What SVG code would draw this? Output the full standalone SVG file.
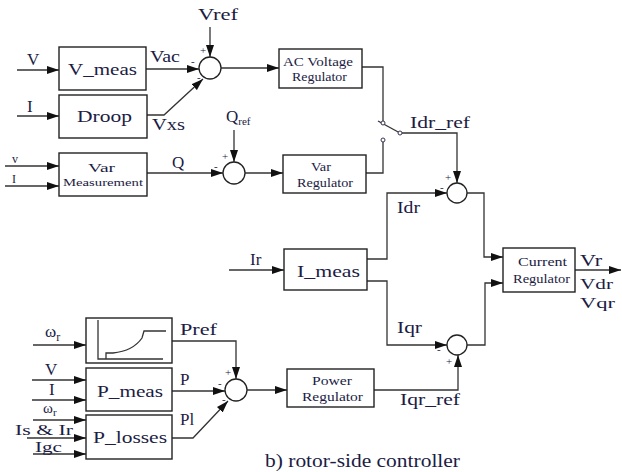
<svg xmlns="http://www.w3.org/2000/svg" width="622" height="472" viewBox="0 0 622 472">
<defs>
<marker id="ah" viewBox="0 0 12 8" refX="12" refY="4" markerWidth="12" markerHeight="8" orient="auto" markerUnits="userSpaceOnUse"><path d="M0,0 L12,4 L0,8 z" fill="#111"/></marker>
</defs>
<style>
.box{fill:#fff;stroke:#222;stroke-width:1.4}
.sum{fill:#fff;stroke:#222;stroke-width:1.3}
.ln{fill:none;stroke:#333;stroke-width:1.3}
.ar{fill:none;stroke:#333;stroke-width:1.3;marker-end:url(#ah)}
text{font-family:"Liberation Serif","Times New Roman",serif;fill:#1c1c44}
.L{font-size:17px}
.N{font-size:15px}
.K{font-size:14px}
.M{font-size:12px}
.S{font-size:10px}
.sg{font-size:11px}
</style>
<rect width="622" height="472" fill="#fff"/>

<g id="connectors">
<path class="ar" d="M17,70 H59"/>
<path class="ar" d="M17,116 H59"/>
<path class="ar" d="M210,27 V57"/>
<path class="ar" d="M146,69 H199"/>
<path class="ar" d="M147,115 H164 L203,79"/>
<path class="ar" d="M221,68 H279"/>
<path class="ln" d="M362,67 H383 V121"/>
<path class="ln" d="M383,142 V173 H366"/>
<path class="ar" d="M5,166 H59"/>
<path class="ar" d="M5,186 H59"/>
<path class="ar" d="M147,173 H223"/>
<path class="ar" d="M234,130 V162"/>
<path class="ar" d="M245,173 H283"/>
<path class="ar" d="M402,133 H457 V183"/>
<path class="ar" d="M367,259 H387 V193 H447"/>
<path class="ar" d="M467,193 H484 V257 H503"/>
<path class="ar" d="M229,270 H284"/>
<path class="ar" d="M367,281 H387 V345 H447"/>
<path class="ar" d="M467,345 H485 V283 H503"/>
<path class="ar" d="M575,270 H621"/>
<path class="ar" d="M374,390 H458 V355"/>
<path class="ar" d="M33,345 H86"/>
<path class="ar" d="M172,341 H236 V379"/>
<path class="ar" d="M32,380 H86"/>
<path class="ar" d="M32,400 H86"/>
<path class="ar" d="M172,391 H225"/>
<path class="ar" d="M247,390 H287"/>
<path class="ar" d="M33,420 H86"/>
<path class="ar" d="M27,438 H86"/>
<path class="ar" d="M33,454 H86"/>
<path class="ar" d="M172,438 H193 L228,401"/>
</g>

<g id="vmeas"><rect class="box" x="59" y="47" width="87" height="43"/><text class="L" x="68" y="75" textLength="69" lengthAdjust="spacingAndGlyphs">V_meas</text></g>
<g id="droop"><rect class="box" x="59" y="95" width="88" height="43"/><text class="L" x="77" y="122" textLength="55" lengthAdjust="spacingAndGlyphs">Droop</text></g>
<g id="varmeas"><rect class="box" x="59" y="153" width="88" height="43"/><text class="M" x="88" y="172" textLength="27" lengthAdjust="spacingAndGlyphs">Var</text><text class="S" x="63" y="186" textLength="80" lengthAdjust="spacingAndGlyphs">Measurement</text></g>
<g id="sum1"><circle class="sum" cx="210" cy="68" r="11"/><text class="sg" x="200" y="54">+</text><text class="sg" x="191" y="65">-</text><text class="sg" x="197" y="81">-</text></g>
<g id="acvr"><rect class="box" x="279" y="49" width="83" height="39"/><text class="M" x="283" y="66" textLength="70" lengthAdjust="spacingAndGlyphs">AC Voltage</text><text class="M" x="292" y="81" textLength="55" lengthAdjust="spacingAndGlyphs">Regulator</text></g>
<g id="sum2"><circle class="sum" cx="234" cy="173" r="11"/><text class="sg" x="222" y="160">+</text><text class="sg" x="214" y="170">-</text></g>
<g id="varreg"><rect class="box" x="283" y="155" width="83" height="38"/><text class="M" x="311" y="171" textLength="20" lengthAdjust="spacingAndGlyphs">Var</text><text class="M" x="297" y="187" textLength="56" lengthAdjust="spacingAndGlyphs">Regulator</text></g>
<g id="switch"><path class="ln" d="M378,121 L400,133"/><circle cx="383" cy="123" r="2" fill="#fff" stroke="#335" stroke-width="1"/><circle cx="383" cy="140" r="2" fill="#fff" stroke="#335" stroke-width="1"/><circle cx="400" cy="133" r="2" fill="#fff" stroke="#335" stroke-width="1"/></g>
<g id="sum3"><circle class="sum" cx="457" cy="193" r="10"/><text class="sg" x="445" y="181">+</text><text class="sg" x="440" y="191">-</text></g>
<g id="imeas"><rect class="box" x="284" y="249" width="83" height="41"/><text class="L" x="297" y="277" textLength="63" lengthAdjust="spacingAndGlyphs">I_meas</text></g>
<g id="sum4"><circle class="sum" cx="457" cy="345" r="10"/><text class="sg" x="437" y="353">-</text><text class="sg" x="446" y="365">+</text></g>
<g id="currreg"><rect class="box" x="503" y="248" width="72" height="44"/><text class="M" x="518" y="266" textLength="49" lengthAdjust="spacingAndGlyphs">Current</text><text class="M" x="513" y="283" textLength="57" lengthAdjust="spacingAndGlyphs">Regulator</text></g>
<g id="curve"><rect class="box" x="86" y="318" width="86" height="45"/><path class="ln" d="M98,320 V359 H163"/><path class="ln" d="M106,359 V353 H113 Q133,351 142,338 L144,331 H166"/></g>
<g id="pmeas"><rect class="box" x="86" y="368" width="86" height="43"/><text class="L" x="97" y="397" textLength="66" lengthAdjust="spacingAndGlyphs">P_meas</text></g>
<g id="plosses"><rect class="box" x="86" y="415" width="86" height="44"/><text class="L" x="93" y="443" textLength="74" lengthAdjust="spacingAndGlyphs">P_losses</text></g>
<g id="sum5"><circle class="sum" cx="236" cy="390" r="11"/><text class="sg" x="225" y="376">+</text><text class="sg" x="218" y="387">-</text><text class="sg" x="222" y="403">-</text></g>
<g id="powreg"><rect class="box" x="287" y="369" width="87" height="38"/><text class="M" x="312" y="385" textLength="40" lengthAdjust="spacingAndGlyphs">Power</text><text class="M" x="302" y="401" textLength="61" lengthAdjust="spacingAndGlyphs">Regulator</text></g>

<g id="labels">
<text class="L" x="198" y="20" textLength="40" lengthAdjust="spacingAndGlyphs">Vref</text>
<text class="L" x="27" y="65">V</text>
<text class="L" x="150" y="62" textLength="30" lengthAdjust="spacingAndGlyphs">Vac</text>
<text class="L" x="27" y="112">I</text>
<text class="L" x="152" y="130" textLength="33" lengthAdjust="spacingAndGlyphs">Vxs</text>
<text class="L" x="226" y="122">Q<tspan font-size="11" dy="3">ref</tspan></text>
<text class="M" x="12" y="163">v</text>
<text class="M" x="12" y="183">I</text>
<text class="L" x="172" y="168">Q</text>
<text class="L" x="410" y="128" textLength="60" lengthAdjust="spacingAndGlyphs">Idr_ref</text>
<text class="L" x="397" y="213" textLength="23" lengthAdjust="spacingAndGlyphs">Idr</text>
<text class="L" x="250" y="265">Ir</text>
<text class="L" x="397" y="333" textLength="25" lengthAdjust="spacingAndGlyphs">Iqr</text>
<text class="L" x="580" y="266" textLength="22" lengthAdjust="spacingAndGlyphs">Vr</text>
<text class="N" x="580" y="289" textLength="33" lengthAdjust="spacingAndGlyphs">Vdr</text>
<text class="N" x="580" y="308" textLength="35" lengthAdjust="spacingAndGlyphs">Vqr</text>
<text class="L" x="400" y="405" textLength="60" lengthAdjust="spacingAndGlyphs">Iqr_ref</text>
<text class="L" x="45" y="337">ω<tspan font-size="12" dy="4">r</tspan></text>
<text class="L" x="180" y="335" textLength="37" lengthAdjust="spacingAndGlyphs">Pref</text>
<text class="L" x="45" y="375">V</text>
<text class="L" x="49" y="395">I</text>
<text class="L" x="180" y="385">P</text>
<text class="N" x="43" y="413">ω<tspan font-size="11" dy="3">r</tspan></text>
<text class="K" x="15" y="435" textLength="58" lengthAdjust="spacingAndGlyphs">Is &amp; Ir</text>
<text class="K" x="35" y="452" textLength="27" lengthAdjust="spacingAndGlyphs">Igc</text>
<text class="L" x="180" y="425">Pl</text>
<text x="265" y="467" font-size="18" textLength="195" lengthAdjust="spacingAndGlyphs">b) rotor-side controller</text>
</g>
</svg>
